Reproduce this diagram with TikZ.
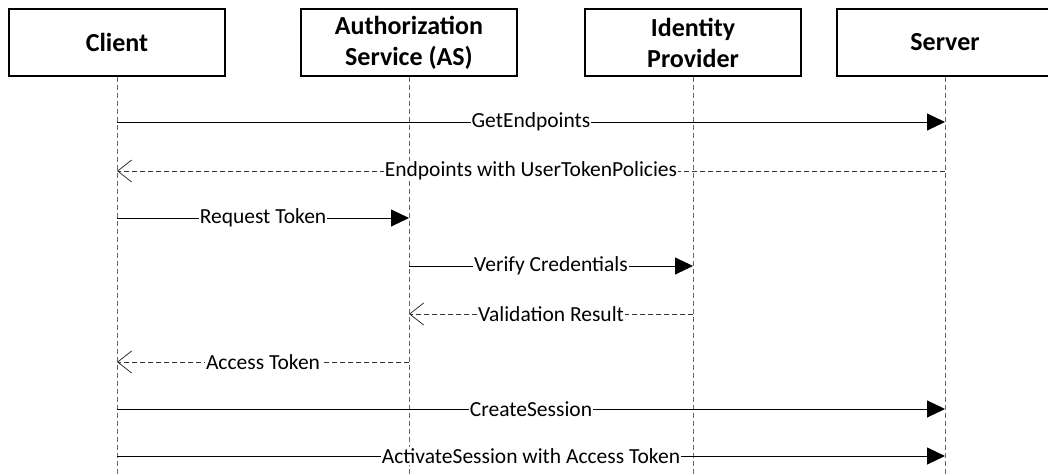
\documentclass[tikz,border=0pt]{standalone}
\usepackage{fontspec}
\setmainfont{Carlito}
\usetikzlibrary{arrows.meta}
\begin{document}
\begin{tikzpicture}[x=1pt,y=1pt,
  actor/.style={draw=black,line width=1.5pt,minimum width=216pt,minimum height=67pt,inner sep=0pt,
    align=center,font=\fontsize{26}{31}\selectfont\bfseries},
  lifeline/.style={draw=black!60,line width=0.9pt,dash pattern=on 5pt off 3pt},
  msg/.style={draw=black,line width=0.9pt,-{Triangle[length=18pt,width=17pt]}},
  ret/.style={draw=black!80,line width=0.9pt,dash pattern=on 5pt off 3pt,
    -{Straight Barb[length=14pt,width=22pt,line width=0.8pt]}},
  lbl/.style={fill=white,inner sep=1pt,font=\fontsize{21.5}{25}\selectfont}]
\useasboundingbox (0,0) rectangle (1048,475);
\fill[white] (0,0) rectangle (1048,475);
% actors
\node[actor] (client) at (117,432.5) {Client};
\node[actor] (as) at (409,432.5) {Authorization\\Service (AS)};
\node[actor] (idp) at (693,432.5) {Identity\\Provider};
\node[actor] (server) at (945,432.5) {Server};
% lifeline ends
\coordinate (bot) at (0,0);
\draw[lifeline] (client.south) -- (client.south |- bot);
\draw[lifeline] (as.south) -- (as.south |- bot);
\draw[lifeline] (idp.south) -- (idp.south |- bot);
\draw[lifeline] (server.south) -- (server.south |- bot);
% message rows
\coordinate (r1) at (0,353);
\coordinate (r2) at (0,304);
\coordinate (r3) at (0,257);
\coordinate (r4) at (0,209);
\coordinate (r5) at (0,161);
\coordinate (r6) at (0,113);
\coordinate (r7) at (0,66);
\coordinate (r8) at (0,19);
\draw[msg] (client.south |- r1) -- node[lbl] {GetEndpoints} (server.south |- r1);
\draw[ret] (server.south |- r2) -- node[lbl] {Endpoints with UserTokenPolicies} (client.south |- r2);
\draw[msg] (client.south |- r3) -- node[lbl] {Request Token} (as.south |- r3);
\draw[msg] (as.south |- r4) -- node[lbl] {Verify Credentials} (idp.south |- r4);
\draw[ret] (idp.south |- r5) -- node[lbl] {Validation Result} (as.south |- r5);
\draw[ret] (as.south |- r6) -- node[lbl] {Access Token} (client.south |- r6);
\draw[msg] (client.south |- r7) -- node[lbl] {CreateSession} (server.south |- r7);
\draw[msg] (client.south |- r8) -- node[lbl] {ActivateSession with Access Token} (server.south |- r8);
\end{tikzpicture}
\end{document}
